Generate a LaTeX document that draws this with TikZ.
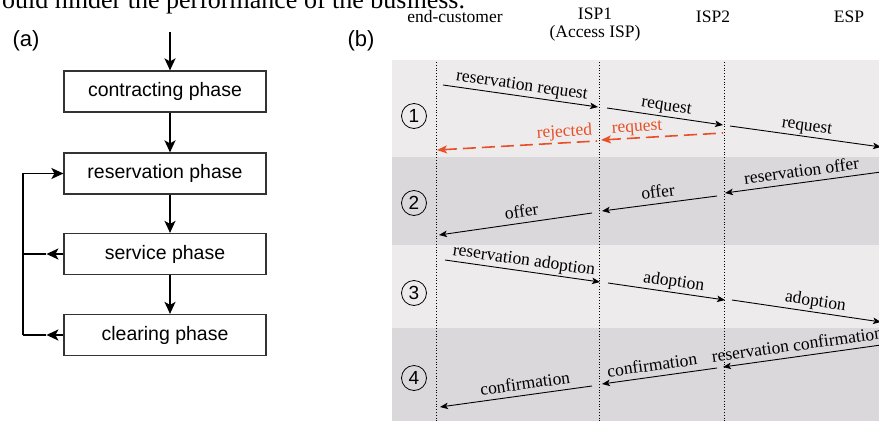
\documentclass[tikz,border=0pt]{standalone}
\usepackage{fontspec}
\setmainfont{Liberation Serif}
\setsansfont{Liberation Sans}
\usetikzlibrary{arrows.meta}
\definecolor{bandlight}{RGB}{237,235,236}
\definecolor{banddark}{RGB}{218,216,219}
\definecolor{rejred}{RGB}{232,80,40}
\begin{document}
\begin{tikzpicture}[x=1pt,y=-1pt,
  phasebox/.style={draw=black!80, line width=1.2pt, minimum width=202pt, minimum height=41pt,
    font=\sffamily\fontsize{19.5}{22}\selectfont, inner sep=0pt},
  flow/.style={line width=1.8pt, -{Stealth[length=12pt,width=11pt,inset=3pt]}},
  fbline/.style={line width=1.8pt},
  msgR/.style={line width=0.9pt, -{Stealth[length=8pt,width=6.5pt,inset=2pt]}},
  msgL/.style={line width=0.9pt, {Stealth[length=8pt,width=6.5pt,inset=2pt]}-},
  rejL/.style={rejred, line width=1.6pt, dash pattern=on 13pt off 6pt,
    {Stealth[length=10pt,width=8pt,inset=2.5pt]}-},
  lbl/.style={font=\fontsize{17.5}{20}\selectfont, sloped, above, inner sep=2pt,
    text height=11pt, text depth=3.5pt},
  head/.style={font=\fontsize{17.5}{18}\selectfont, align=center, inner sep=0pt},
  life/.style={dotted, line width=0.8pt},
  stepnum/.style={draw, circle, line width=0.8pt, minimum size=25pt, inner sep=0pt,
    font=\sffamily\fontsize{19}{20}\selectfont},
  panel/.style={font=\sffamily\fontsize{22}{24}\selectfont, inner sep=0pt}
]
\useasboundingbox (0,0) rectangle (879,421);
\clip (0,0) rectangle (879,421);

% clipped running text at top
\node[anchor=base west, font=\fontsize{26}{28}\selectfont, inner sep=0pt] (runtext) at (2,8)
  {ould hinder the performance of the business.};

% ---------------- (a) ----------------
\node[panel] (pa) at (26,41) {(a)};
\node[phasebox] (contract) at (165,91.5) {contracting phase};
\node[phasebox] (reserv) at (165,173.5) {reservation phase};
\node[phasebox] (service) at (165,254) {service phase};
\node[phasebox] (clearing) at (165,335) {clearing phase};

\coordinate (entry) at (170,32);
\draw[flow] (entry) -- ([xshift=5pt]contract.north);
\draw[flow] ([xshift=5pt]contract.south) -- ([xshift=5pt]reserv.north);
\draw[flow] ([xshift=5pt]reserv.south) -- ([xshift=5pt]service.north);
\draw[flow] ([xshift=5pt]service.south) -- ([xshift=5pt]clearing.north);

\coordinate (fbtop) at (23,173.5);
\coordinate (fbbot) at (23,335);
\draw[flow] (fbbot) -- (fbtop) -- (reserv.west);
\draw[flow] (service.west) -- ++(-17,0) coordinate (svtip);
\draw[fbline] (svtip) -- (service.west -| fbtop);
\draw[flow] (clearing.west) -- ++(-17,0) coordinate (cltip);
\draw[fbline] (cltip) -- (fbbot);

% ---------------- (b) ----------------
\node[panel] (pb) at (361,41) {(b)};

\fill[bandlight] (392,60) rectangle (879,157);
\fill[banddark]  (392,157) rectangle (879,245);
\fill[bandlight] (392,245) rectangle (879,328);
\fill[banddark]  (392,328) rectangle (879,421);

\node[head] (hec) at (455,17) {end-customer};
\node[head] (hisp1) at (595,25) {ISP1\\(Access ISP)};
\node[head] (hisp2) at (713,17) {ISP2};
\node[head] (hesp) at (849,17) {ESP};

\coordinate (lec) at (436,62);  \coordinate (lecb) at (436,421);
\coordinate (l1) at (599,62);   \coordinate (l1b) at (599,421);
\coordinate (l2) at (724,62);   \coordinate (l2b) at (724,421);
\draw[life] (lec) -- (lecb);
\draw[life] (l1) -- (l1b);
\draw[life] (l2) -- (l2b);

\node[stepnum] (s1) at (414,116) {1};
\node[stepnum] (s2) at (414,203) {2};
\node[stepnum] (s3) at (414,293) {3};
\node[stepnum] (s4) at (414,378) {4};

% band 1
\coordinate (a1) at (443,85);  \coordinate (b1) at (598,107);
\coordinate (a2) at (607,108); \coordinate (b2) at (723,125);
\coordinate (a3) at (730,126); \coordinate (b3) at (881,147);
\draw[msgR] (a1) -- node[lbl] {reservation request} (b1);
\draw[msgR] (a2) -- node[lbl] {request} (b2);
\draw[msgR] (a3) -- node[lbl] {request} (b3);
\coordinate (r1) at (601,140); \coordinate (r2) at (723,133);
\coordinate (r3) at (437,150); \coordinate (r4) at (597,141);
\draw[rejL] (r1) -- node[lbl, pos=0.3, text=rejred] {request} (r2);
\draw[rejL] (r3) -- node[lbl, pos=0.8, text=rejred] {rejected} (r4);

% band 2
\coordinate (o1) at (725,193); \coordinate (p1) at (881,172);
\coordinate (o2) at (602,211); \coordinate (p2) at (717,196);
\coordinate (o3) at (439,235); \coordinate (p3) at (592,213);
\draw[msgL] (o1) -- node[lbl] {reservation offer} (p1);
\draw[msgL] (o2) -- node[lbl] {offer} (p2);
\draw[msgL] (o3) -- node[lbl, pos=0.55] {offer} (p3);

% band 3
\coordinate (d1) at (445,260); \coordinate (e1) at (600,282);
\coordinate (d2) at (608,283); \coordinate (e2) at (725,300);
\coordinate (d3) at (732,300); \coordinate (e3) at (881,322);
\draw[msgR] (d1) -- node[lbl] {reservation adoption} (e1);
\draw[msgR] (d2) -- node[lbl, pos=0.55] {adoption} (e2);
\draw[msgR] (d3) -- node[lbl, pos=0.55] {adoption} (e3);

% band 4
\coordinate (f1) at (723,367); \coordinate (g1) at (881,345);
\coordinate (f2) at (602,384); \coordinate (g2) at (717,368);
\coordinate (f3) at (440,407); \coordinate (g3) at (592,386);
\draw[msgL] (f1) -- node[lbl, pos=0.48] {reservation confirmation} (g1);
\draw[msgL] (f2) -- node[lbl, pos=0.45] {confirmation} (g2);
\draw[msgL] (f3) -- node[lbl, pos=0.57] {confirmation} (g3);
\end{tikzpicture}
\end{document}
